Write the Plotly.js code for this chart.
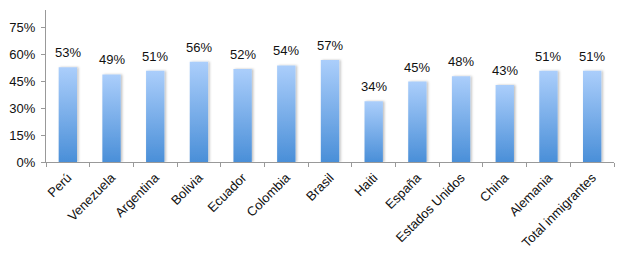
<!DOCTYPE html>
<html>
<head>
<meta charset="utf-8">
<script src="https://cdn.plot.ly/plotly-3.0.1.min.js"></script>
<style>html,body{margin:0;padding:0;background:#fff;}#chart{width:620px;height:259px;}</style>
</head>
<body>
<div id="chart"></div>
<script>
const categories = ["Perú","Venezuela","Argentina","Bolivia","Ecuador","Colombia","Brasil","Haiti","España","Estados Unidos","China","Alemania","Total inmigrantes"];
const values = [0.53,0.49,0.51,0.56,0.52,0.54,0.57,0.34,0.45,0.48,0.43,0.51,0.51];
const yTickVals = [0,0.15,0.30,0.45,0.60,0.75];
const yTickText = ["0%","15%","30%","45%","60%","75%"];

const font = {family: "Liberation Sans, Arial, sans-serif", size: 13, color: "#111"};

const trace = {
  type: "bar",
  x: categories,
  y: values,
  width: 0.42,
  marker: {color: "#7fb0ec", line: {width: 0}},
  hoverinfo: "none"
};

const annotations = categories.map((c, i) => ({
  x: c, y: values[i], xref: "x", yref: "y",
  text: Math.round(values[i] * 100) + "%",
  showarrow: false, yanchor: "bottom", yshift: 5,
  font: font
}));

const layout = {
  width: 620, height: 259,
  margin: {l: 46, r: 6, t: 10, b: 97},
  paper_bgcolor: "#fff", plot_bgcolor: "#fff",
  showlegend: false,
  font: font,
  bargap: 0.58,
  xaxis: {
    type: "category",
    tickangle: -45,
    showline: true, linecolor: "#999", linewidth: 1,
    ticks: "outside", tickson: "boundaries", ticklen: 4, tickcolor: "#999",
    showgrid: false, zeroline: false,
    ticklabelstandoff: 2,
    tickfont: {family: font.family, size: 13, color: "#111"},
    range: [-0.5, 12.5]
  },
  yaxis: {
    range: [0, 0.85],
    tickvals: yTickVals, ticktext: yTickText,
    showline: true, linecolor: "#999", linewidth: 1,
    ticks: "outside", ticklen: 4, tickcolor: "#999",
    showgrid: false, zeroline: false,
    ticklabelstandoff: 3,
    tickfont: font
  },
  annotations: annotations
};

Plotly.newPlot("chart", [trace], layout, {displayModeBar: false, staticPlot: true}).then(function (gd) {
  const svg = gd.querySelector("svg.main-svg");
  const ns = "http://www.w3.org/2000/svg";
  let defs = svg.querySelector("defs");
  if (!defs) { defs = document.createElementNS(ns, "defs"); svg.insertBefore(defs, svg.firstChild); }
  const grad = document.createElementNS(ns, "linearGradient");
  grad.setAttribute("id", "barGrad");
  grad.setAttribute("x1", "0"); grad.setAttribute("y1", "0");
  grad.setAttribute("x2", "0"); grad.setAttribute("y2", "1");
  [["0%", "#abcefb"], ["100%", "#4a8fd8"]].forEach(function (s) {
    const st = document.createElementNS(ns, "stop");
    st.setAttribute("offset", s[0]); st.setAttribute("stop-color", s[1]);
    grad.appendChild(st);
  });
  defs.appendChild(grad);
  const filt = document.createElementNS(ns, "filter");
  filt.setAttribute("id", "barShadow");
  filt.setAttribute("x", "-20%"); filt.setAttribute("y", "-5%");
  filt.setAttribute("width", "150%"); filt.setAttribute("height", "110%");
  const sh = document.createElementNS(ns, "feDropShadow");
  sh.setAttribute("dx", "1.5"); sh.setAttribute("dy", "0");
  sh.setAttribute("stdDeviation", "0.8");
  sh.setAttribute("flood-color", "#000"); sh.setAttribute("flood-opacity", "0.25");
  filt.appendChild(sh);
  defs.appendChild(filt);
  gd.querySelectorAll(".barlayer .point path").forEach(function (p) {
    p.style.fill = "url(#barGrad)";
    p.setAttribute("filter", "url(#barShadow)");
  });
});
</script>
</body>
</html>
